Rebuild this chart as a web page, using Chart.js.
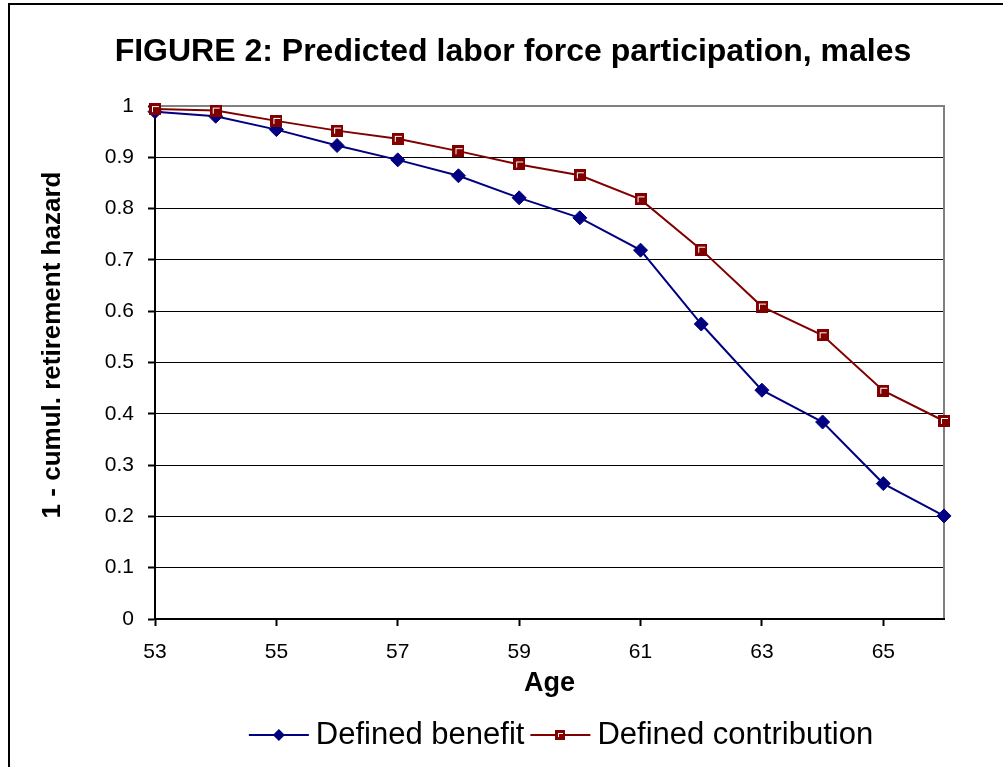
<!DOCTYPE html>
<html>
<head>
<meta charset="utf-8">
<title>Predicted labor force participation, males</title>
<script src="https://cdn.jsdelivr.net/npm/chart.js@4.4.1/dist/chart.umd.min.js"></script>
<style>
  html, body { margin: 0; padding: 0; background: #fff; }
  #wrap { width: 1003px; height: 767px; }
</style>
</head>
<body>
<div id="wrap"><canvas id="lfpChart" width="1003" height="767"></canvas></div>
<script>
// ages on the x axis (every other one is labelled)
const ages = [53, 54, 55, 56, 57, 58, 59, 60, 61, 62, 63, 64, 65, 66];
// 1 - cumulative retirement hazard
const definedBenefit = [0.989, 0.980, 0.954, 0.923, 0.895, 0.864, 0.821, 0.782, 0.719, 0.575, 0.446, 0.384, 0.264, 0.201];
const definedContribution = [0.994, 0.991, 0.971, 0.952, 0.936, 0.912, 0.886, 0.865, 0.818, 0.720, 0.609, 0.553, 0.445, 0.386];

const FONT = '"Liberation Sans", Arial, sans-serif';
const NAVY = '#000080';
const MAROON = '#800000';
const Y_TITLE = '1 - cumul. retirement hazard';

// Excel-style square marker: dark red with a white inner corner
function squareMarker(size) {
    const c = document.createElement('canvas');
    c.width = size; c.height = size;
    const g = c.getContext('2d');
    g.fillStyle = MAROON;
    g.fillRect(0, 0, size, size);
    g.fillStyle = '#fff';
    g.fillRect(3, 3, size - 5, 1);
    g.fillRect(3, 3, 1, size - 6);
    return c;
}
const bigSquare = squareMarker(12);
const smallSquare = squareMarker(10);

// outer frame (left + top only, like the cropped original), grey plot border, y title
const framePlugin = {
    id: 'frame',
    beforeDatasetsDraw(chart) {
        const { ctx, chartArea: a } = chart;
        ctx.save();
        ctx.strokeStyle = '#808080';
        ctx.lineWidth = 2;
        ctx.beginPath();
        ctx.moveTo(a.left + 1, a.top);
        ctx.lineTo(a.right, a.top);
        ctx.lineTo(a.right, a.bottom - 1);
        ctx.stroke();
        ctx.restore();
    },
    afterDraw(chart) {
        const ctx = chart.ctx;
        ctx.save();
        ctx.fillStyle = '#000';
        ctx.fillRect(8, 3, chart.width - 8, 2);
        ctx.fillRect(8, 3, 2, chart.height - 3);
        // y axis title sits a little above the plot's middle in the original
        ctx.translate(53, 345);
        ctx.rotate(-Math.PI / 2);
        ctx.font = 'bold 26px ' + FONT;
        ctx.textAlign = 'center';
        ctx.textBaseline = 'middle';
        ctx.fillText(Y_TITLE, 0, 0);
        ctx.restore();
    }
};

// legend with line + marker samples, as in the Excel original
const lineLegend = {
    id: 'lineLegend',
    afterDraw(chart) {
        const ctx = chart.ctx;
        const sample = 60, gap = 7, spacing = 6, y = 735;
        ctx.save();
        ctx.font = '31px ' + FONT;
        ctx.textBaseline = 'middle';
        const items = chart.data.datasets.map(ds => ({ ds, w: ctx.measureText(ds.label).width }));
        const total = items.reduce((s, it) => s + sample + gap + it.w, 0) + spacing * (items.length - 1);
        let x = 561 - total / 2;
        items.forEach(({ ds, w }) => {
            ctx.strokeStyle = ds.borderColor;
            ctx.lineWidth = 2;
            ctx.beginPath();
            ctx.moveTo(x, y);
            ctx.lineTo(x + sample, y);
            ctx.stroke();
            const cx = x + sample / 2;
            if (ds.pointStyle === 'rectRot') {
                ctx.fillStyle = ds.backgroundColor;
                ctx.beginPath();
                ctx.moveTo(cx, y - 6);
                ctx.lineTo(cx + 6, y);
                ctx.lineTo(cx, y + 6);
                ctx.lineTo(cx - 6, y);
                ctx.closePath();
                ctx.fill();
            } else {
                ctx.drawImage(smallSquare, Math.round(cx - 5), Math.round(y - 5));
            }
            ctx.fillStyle = '#000';
            ctx.fillText(ds.label, x + sample + gap, y);
            x += sample + gap + w + spacing;
        });
        ctx.restore();
    }
};

Chart.defaults.font.family = FONT;
Chart.defaults.color = '#000';

new Chart(document.getElementById('lfpChart').getContext('2d'), {
    type: 'line',
    data: {
        labels: ages,
        datasets: [{
            label: 'Defined benefit',
            data: definedBenefit,
            borderColor: NAVY,
            backgroundColor: NAVY,
            borderWidth: 2,
            tension: 0,
            pointStyle: 'rectRot',
            pointRadius: 7,
            pointBorderWidth: 1,
            pointBackgroundColor: NAVY,
            pointBorderColor: NAVY,
            clip: false,
            order: 1
        }, {
            label: 'Defined contribution',
            data: definedContribution,
            borderColor: MAROON,
            backgroundColor: MAROON,
            borderWidth: 2,
            tension: 0,
            pointStyle: bigSquare,
            pointRadius: 6,
            clip: false,
            order: 0
        }]
    },
    options: {
        responsive: false,
        animation: false,
        devicePixelRatio: 1,
        layout: { padding: { left: 23, right: 0, top: 0, bottom: 58 } },
        plugins: {
            legend: { display: false },
            tooltip: { enabled: false },
            title: {
                display: true,
                text: 'FIGURE 2: Predicted labor force participation, males',
                font: { size: 32, weight: 'bold' },
                color: '#000',
                padding: { top: 33, bottom: 34.6 }
            }
        },
        scales: {
            x: {
                type: 'category',
                offset: false,
                afterFit: (scale) => { scale.height = 90; },
                border: { color: '#000', width: 2 },
                grid: {
                    drawOnChartArea: false,
                    drawTicks: true,
                    tickLength: 7,
                    tickWidth: 2,
                    color: (ctx) => (ctx.index % 2 === 0 ? '#000' : 'rgba(0,0,0,0)')
                },
                ticks: {
                    autoSkip: false,
                    maxRotation: 0,
                    padding: 14,
                    font: { size: 21 },
                    callback: function (value, index) {
                        return index % 2 === 0 ? this.getLabelForValue(value) : '';
                    }
                },
                title: {
                    display: true,
                    text: 'Age',
                    font: { size: 27, weight: 'bold' },
                    padding: { top: 0, bottom: 9 }
                }
            },
            y: {
                min: 0,
                max: 1,
                afterFit: (scale) => { scale.width = 132; },
                border: { color: '#000', width: 2 },
                grid: {
                    color: '#000',
                    lineWidth: 1,
                    tickLength: 7,
                    tickWidth: 2
                },
                ticks: {
                    stepSize: 0.1,
                    padding: 14,
                    font: { size: 21 },
                    callback: (v) => String(Math.round(v * 10) / 10)
                }
            },
            // empty right-hand axis: keeps the white margin right of the plot
            yRight: {
                position: 'right',
                afterFit: (scale) => { scale.width = 59; },
                border: { display: false },
                grid: { display: false },
                ticks: { display: false }
            }
        }
    },
    plugins: [framePlugin, lineLegend]
});
</script>
</body>
</html>
